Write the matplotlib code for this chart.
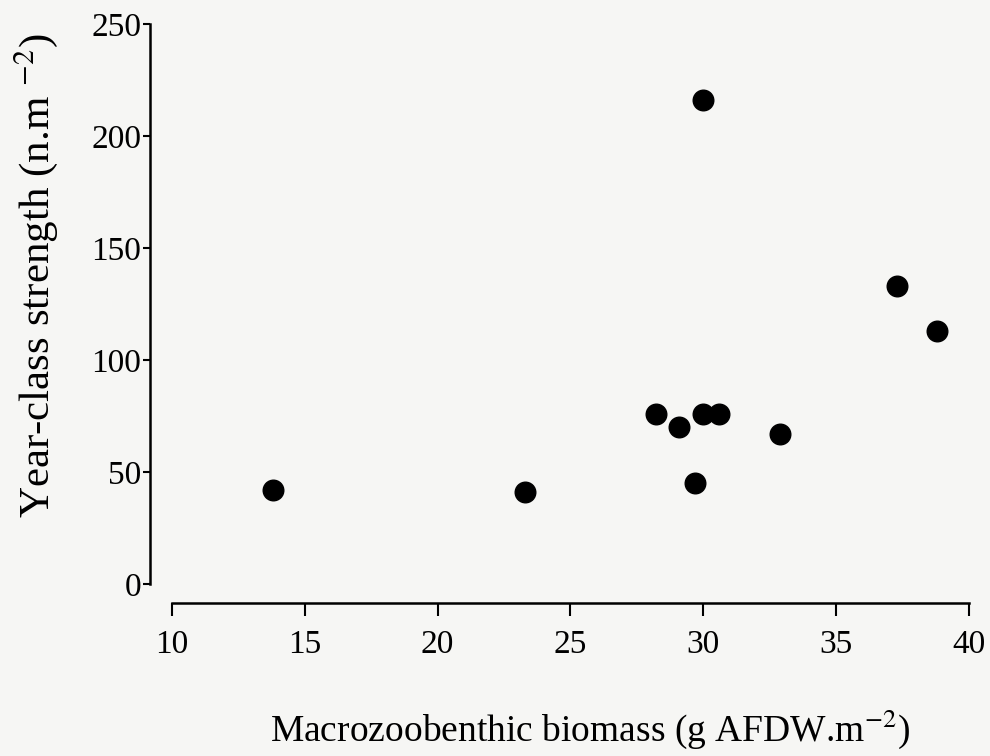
import matplotlib.pyplot as plt

# biomass (g AFDW.m-2) vs year-class strength (n.m-2)
biomass = [13.8, 23.3, 28.2, 29.1, 29.7, 30.0, 30.6, 30.0, 32.9, 37.3, 38.8]
strength = [42, 41, 76, 70, 45, 76, 76, 216, 67, 133, 113]

x_ticks = [10, 15, 20, 25, 30, 35, 40]
y_ticks = [0, 50, 100, 150, 200, 250]

plt.rcParams['font.family'] = 'Liberation Serif'
plt.rcParams['mathtext.fontset'] = 'stix'

bg = '#f6f6f4'
fig = plt.figure(figsize=(9.9, 7.56), dpi=100, facecolor=bg)
ax = fig.add_axes([0.1737, 0.2275, 0.8051, 0.7407], facecolor=bg)

ax.scatter(biomass, strength, s=220, color='black', zorder=3, clip_on=False)

ax.set_xlim(10, 40)
ax.set_ylim(0, 250)
ax.set_xticks(x_ticks)
ax.set_yticks(y_ticks)

for side in ['top', 'right']:
    ax.spines[side].set_visible(False)
ax.spines['left'].set_position(('outward', 16))
ax.spines['bottom'].set_position(('outward', 14))
ax.spines['left'].set_linewidth(1.8)
ax.spines['bottom'].set_linewidth(1.8)

ax.tick_params(axis='y', length=5, width=1.5, pad=1, labelsize=24)
ax.tick_params(axis='x', length=9, width=1.5, pad=10, labelsize=24)

fig.text(0.036, 0.636, 'Year-class strength (n.m $^{-2}$)', rotation=90,
         fontsize=31, ha='center', va='center')
fig.text(0.596, 0.036, 'Macrozoobenthic biomass (g AFDW.m$^{-2}$)',
         fontsize=27, ha='center', va='center')

fig.savefig('out.png', dpi=100, facecolor=bg)
